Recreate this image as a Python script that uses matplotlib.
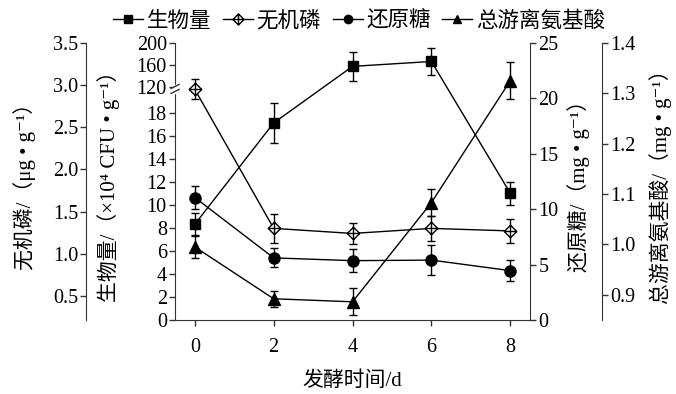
import numpy as np
import matplotlib
matplotlib.use("Agg")
import matplotlib.pyplot as plt
from matplotlib.path import Path
from matplotlib.lines import Line2D

plt.rcParams['font.family'] = ['Liberation Serif', 'DejaVu Serif', 'Noto Sans CJK SC']
plt.rcParams['font.size'] = 14.5

# data
days = [0, 2, 4, 6, 8]
biomass = [8.3, 17.1, 157, 166, 11.0]
biomass_err = [1.0, 1.7, 27, 25, 1.0]
phosphorus = [2.95, 1.30, 1.24, 1.30, 1.27]
phosphorus_err = [0.12, 0.17, 0.12, 0.15, 0.14]
sugar = [11.05, 5.6, 5.35, 5.4, 4.45]
sugar_err = [1.0, 0.85, 1.05, 1.35, 0.95]
amino = [0.995, 0.892, 0.886, 1.083, 1.325]
amino_err = [0.023, 0.016, 0.027, 0.026, 0.037]

biomass_ticks = [0, 2, 4, 6, 8, 10, 12, 14, 16, 18, 120, 160, 200]
series_names = ['生物量', '无机磷', '还原糖', '总游离氨基酸']


# broken biomass axis: 0-20 linear, 120-200 compressed
def fwd(v):
    v = np.asarray(v, dtype=float)
    return np.where(v <= 20, v,
                    np.where(v < 120, 20 + (v - 20) * 0.0026, 20.26 + (v - 120) * 0.0473))


def inv(y):
    y = np.asarray(y, dtype=float)
    return np.where(y <= 20, y,
                    np.where(y < 20.26, 20 + (y - 20) / 0.0026, 120 + (y - 20.26) / 0.0473))


# diamond with a cross inside
diamond_plus = Path(
    [(0, 1), (1, 0), (0, -1), (-1, 0), (0, 1), (0, 1), (0, -1), (-1, 0), (1, 0)],
    [Path.MOVETO, Path.LINETO, Path.LINETO, Path.LINETO, Path.CLOSEPOLY,
     Path.MOVETO, Path.LINETO, Path.MOVETO, Path.LINETO])

spine_c = '#333333'
fig = plt.figure(figsize=(6.76, 3.94), dpi=100)
ax = fig.add_axes([0.259, 0.188, 0.525, 0.703])
ax_p = ax.twinx()
ax_s = ax.twinx()
ax_a = ax.twinx()

for a in (ax, ax_p, ax_s, ax_a):
    for s in a.spines.values():
        s.set_visible(False)
        s.set_color(spine_c)
    a.tick_params(direction='out', length=4, width=1, color=spine_c, labelsize=14.5, pad=2)
ax.tick_params(axis='x', pad=9)

ax.spines['left'].set_visible(True)
ax.spines['bottom'].set_visible(True)
ax_p.spines['left'].set_visible(True)
ax_p.spines['left'].set_position(('axes', -0.25))
ax_p.yaxis.set_ticks_position('left')
ax_p.yaxis.set_label_position('left')
ax_s.spines['right'].set_visible(True)
ax_a.spines['right'].set_visible(True)
ax_a.spines['right'].set_position(('axes', 1.203))

kw = dict(color='black', lw=1, capsize=3, elinewidth=1, capthick=1, ms=7)
ax.set_yscale('function', functions=(fwd, inv))
ax.errorbar(days, biomass, yerr=biomass_err, fmt='-s', **kw, zorder=3)
ax_p.errorbar(days, phosphorus, yerr=phosphorus_err, fmt='-', marker=diamond_plus,
              mfc='white', mew=1, **{**kw, 'ms': 9})
ax_s.errorbar(days, sugar, yerr=sugar_err, fmt='-o', **{**kw, 'ms': 8})
ax_a.errorbar(days, amino, yerr=amino_err, fmt='-^', **{**kw, 'ms': 8})

ax.set_xlim(-0.5, 8.5)
ax.set_xticks(days)
ax.set_ylim(0, 200)
ax.set_yticks(biomass_ticks)
ax.set_yticklabels([str(t) for t in biomass_ticks])
ax.minorticks_off()
ax_p.set_ylim(0.214, 3.5)
ax_p.set_yticks([0.5, 1.0, 1.5, 2.0, 2.5, 3.0, 3.5])
ax_s.set_ylim(0, 25)
ax_s.set_yticks([0, 5, 10, 15, 20, 25])
ax_a.set_ylim(0.85, 1.4)
ax_a.set_yticks([0.9, 1.0, 1.1, 1.2, 1.3, 1.4])

lab = dict(fontsize=15)
ax.set_xlabel('发酵时间/d', labelpad=10, **lab)
ax.set_ylabel('生物量/（×10⁴ CFU • g⁻¹）', labelpad=12, **lab)
ax_p.set_ylabel('无机磷/（μg • g⁻¹）', labelpad=12, **lab)
ax_s.set_ylabel('还原糖/（mg • g⁻¹）', labelpad=6, **lab)
ax_a.set_ylabel('总游离氨基酸/（mg • g⁻¹）', labelpad=10, **lab)

# break marks on the biomass axis
px, py = 1 / 355, 1 / 277
yb = 0.834
ax.plot([0, 0], [yb - 3 * py, yb + 3 * py], color='white', lw=2.5,
        transform=ax.transAxes, clip_on=False, zorder=5)
for dy in (-2.5, 2.5):
    ax.plot([-4 * px, 4 * px], [yb + (dy - 2) * py, yb + (dy + 2) * py], color=spine_c,
            lw=1, transform=ax.transAxes, clip_on=False, zorder=6)

handles = [
    Line2D([], [], color='black', lw=1, marker='s', ms=6),
    Line2D([], [], color='black', lw=1, marker=diamond_plus, mfc='white', ms=8),
    Line2D([], [], color='black', lw=1, marker='o', ms=6),
    Line2D([], [], color='black', lw=1, marker='^', ms=6),
]
fig.legend(handles, series_names, loc='upper center', bbox_to_anchor=(0.531, 1.02), ncol=4,
           frameon=False, handlelength=1.4, handletextpad=0.15, columnspacing=0.55,
           fontsize=15.5)

fig.savefig('out.png', dpi=100)
